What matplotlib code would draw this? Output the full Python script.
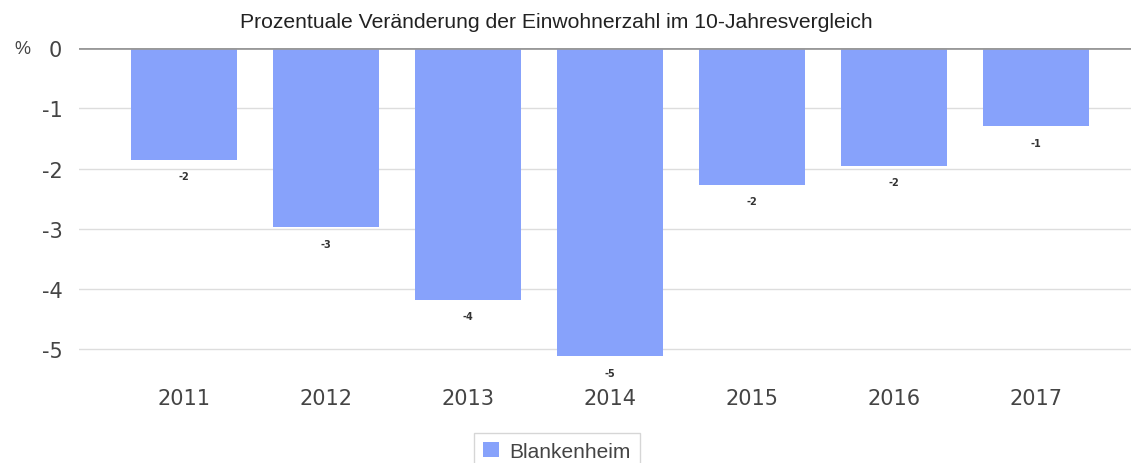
import matplotlib.pyplot as plt

years = ['2011', '2012', '2013', '2014', '2015', '2016', '2017']
change = [-1.85, -2.97, -4.18, -5.12, -2.27, -1.95, -1.29]
labels = ['-2', '-3', '-4', '-5', '-2', '-2', '-1']
series = 'Blankenheim'

fig = plt.figure(figsize=(11.31, 4.64), dpi=100)
ax = fig.add_axes([0.0698, 0.2004, 0.9302, 0.6933])

x = range(len(years))
bars = ax.bar(x, change, width=0.75, color='#87a2fb', label=series, zorder=2)

for xi, v, t in zip(x, change, labels):
    ax.annotate(t, (xi, v), xytext=(0, -12), textcoords='offset points',
                ha='center', va='center', fontsize=7, fontweight='bold', color='#333333')

ax.set_xlim(-0.74, 6.67)
ax.set_ylim(-5.35, 0)
ax.set_yticks([0, -1, -2, -3, -4, -5])
ax.set_yticklabels(['0', '-1', '-2', '-3', '-4', '-5'])
ax.set_xticks(list(x))
ax.set_xticklabels(years)
ax.grid(axis='y', color='#dddddd', linewidth=1, zorder=0)
ax.axhline(0, color='#999999', linewidth=2, zorder=3)
ax.tick_params(axis='both', length=0, labelsize=15, labelcolor='#444444')
ax.tick_params(axis='y', pad=12)
ax.tick_params(axis='x', pad=13)
for s in ax.spines.values():
    s.set_visible(False)

fig.text(0.0195, 0.894, '%', fontsize=13, color='#444444', ha='center', va='center',
         family='Liberation Sans')
fig.text(0.492, 0.952, 'Prozentuale Veränderung der Einwohnerzahl im 10-Jahresvergleich',
         fontsize=15.2, color='#222222', ha='center', va='center', family='Liberation Sans')

leg = fig.legend(loc='center', bbox_to_anchor=(0.4925, 0.025), frameon=True, fancybox=False,
                 prop={'family': 'Liberation Sans', 'size': 15}, handlelength=0.75,
                 handleheight=0.75, handletextpad=0.5, borderpad=0.45)
leg.get_frame().set_edgecolor('#cccccc')
for t in leg.get_texts():
    t.set_color('#444444')

fig.savefig('out.png', dpi=100)
